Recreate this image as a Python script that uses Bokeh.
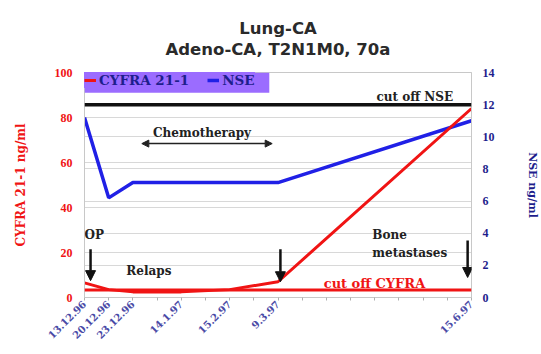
import math
from bokeh.plotting import figure
from bokeh.models import (Range1d, LinearAxis, FixedTicker, Grid, Legend, LegendItem,
                          BoxAnnotation, Label, Arrow, NormalHead, Span, Title)
from bokeh.embed import file_html
from bokeh.resources import INLINE

# ---------------- data ----------------
slot_count = 17                      # evenly spaced category slots on the x axis
date_pos = [0, 1, 2, 4, 6, 8, 16]   # slot index of each measurement
date_labels = ["13.12.96", "20.12.96", "23.12.96", "14.1.97", "15.2.97", "9.3.97", "15.6.97"]
cyfra = [6.5, 3.5, 2.5, 2.5, 3.5, 7.0, 84.0]       # CYFRA 21-1 ng/ml (left axis)
nse = [11.2, 6.2, 7.15, 7.15, 7.15, 7.15, 11.0]    # NSE ng/ml (right axis)
cutoff_cyfra = 3.3
cutoff_nse = 12.0
left_ticks = [0, 20, 40, 60, 80, 100]
right_ticks = [0, 2, 4, 6, 8, 10, 12, 14]
title_lines = ["Lung-CA", "Adeno-CA, T2N1M0, 70a"]

RED = "#f01414"
BLUE = "#2020e6"
NAVY = "#1e1e8c"
SERIF = "DejaVu Serif"

p = figure(width=541, height=354, output_backend="svg", toolbar_location=None,
           x_range=Range1d(0, slot_count - 1), y_range=Range1d(0, 100),
           min_border_left=84, min_border_right=59, min_border_top=72, min_border_bottom=57,
           title=" ")
p.extra_y_ranges = {"nse": Range1d(0, 14)}
p.background_fill_color = "white"
p.border_fill_color = "white"
p.outline_line_color = "#c8c8c8"

# two title lines above the frame (second line nearest the frame)
p.title.text_font_size = "10px"
p.title.standoff = 0
p.add_layout(Title(text=title_lines[1], align="center", text_font="DejaVu Sans",
                   text_font_style="bold", text_font_size="16.5px",
                   text_color="#2a2a2a", offset=-16, standoff=0,
                   padding=(0, 0, 0, 14)), "above")
p.add_layout(Title(text=title_lines[0], align="center", text_font="DejaVu Sans",
                   text_font_style="bold", text_font_size="16.5px",
                   text_color="#2a2a2a", offset=-16, standoff=0), "above")

# grids
p.xgrid.visible = False
p.ygrid.ticker = FixedTicker(ticks=left_ticks)
p.ygrid.grid_line_color = "#d8d8d8"
p.add_layout(Grid(dimension=1, ticker=FixedTicker(ticks=right_ticks), y_range_name="nse",
                  grid_line_color="#d8d8d8"))

# x axis
xa = p.xaxis[0]
xa.ticker = FixedTicker(ticks=list(range(slot_count)))
overrides = {i: "" for i in range(slot_count)}
for pos, lab in zip(date_pos, date_labels):
    overrides[pos] = lab
xa.major_label_overrides = overrides
xa.major_label_orientation = math.pi / 4
xa.major_label_text_font = SERIF
xa.major_label_text_font_style = "bold"
xa.major_label_text_font_size = "10px"
xa.major_label_text_color = "#4a4aa6"
xa.axis_line_color = "#c8c8c8"
xa.major_tick_line_color = "#b0b0b0"
xa.major_tick_out = 3
xa.major_tick_in = 0
xa.minor_tick_line_color = None
xa.major_label_standoff = 2

# left axis
ya = p.yaxis[0]
ya.ticker = FixedTicker(ticks=left_ticks)
ya.axis_label = "CYFRA 21-1 ng/ml"
ya.axis_label_text_font = SERIF
ya.axis_label_text_font_style = "bold"
ya.axis_label_text_font_size = "12px"
ya.axis_label_text_color = RED
ya.axis_label_standoff = 24
ya.major_label_text_font = "Liberation Serif"
ya.major_label_text_font_style = "bold"
ya.major_label_text_font_size = "12px"
ya.major_label_text_color = RED
ya.axis_line_color = "#c8c8c8"
ya.major_tick_line_color = None
ya.minor_tick_line_color = None
ya.major_label_standoff = 6

# right axis
ra = LinearAxis(y_range_name="nse", ticker=FixedTicker(ticks=right_ticks), axis_label="NSE ng/ml")
ra.axis_label_text_font = SERIF
ra.axis_label_text_font_style = "bold"
ra.axis_label_text_font_size = "11px"
ra.axis_label_text_color = NAVY
ra.axis_label_standoff = 28
ra.major_label_text_font = "Liberation Serif"
ra.major_label_text_font_style = "bold"
ra.major_label_text_font_size = "12px"
ra.major_label_text_color = NAVY
ra.axis_line_color = "#c8c8c8"
ra.major_tick_line_color = None
ra.minor_tick_line_color = None
ra.major_label_standoff = 5
p.add_layout(ra, "right")

# series
r_nse = p.line(date_pos, nse, y_range_name="nse", line_color=BLUE, line_width=3.5)
r_cyfra = p.line(date_pos, cyfra, line_color=RED, line_width=3)

# cut-off lines
p.add_layout(Span(location=cutoff_cyfra, dimension="width", line_color=RED, line_width=3))
p.add_layout(Span(location=cutoff_nse, dimension="width", y_range_name="nse",
                  line_color="#111111", line_width=3.5))

# legend
p.add_layout(BoxAnnotation(left=0, right=7.64, bottom=91, top=100, fill_color="#9b6cff",
                           fill_alpha=1, line_color=None, level="annotation"))
legend = Legend(items=[LegendItem(label="CYFRA 21-1", renderers=[r_cyfra]),
                       LegendItem(label="NSE", renderers=[r_nse])],
                location="top_left", orientation="horizontal", margin=0, padding=3,
                spacing=18, glyph_width=12, glyph_height=10, label_standoff=3,
                background_fill_color="#9b6cff", background_fill_alpha=1,
                border_line_color=None,
                label_text_font=SERIF, label_text_font_style="bold",
                label_text_font_size="13.5px", label_text_color=NAVY)
p.add_layout(legend)

# annotations
def lab(x, y, text, align="left", size="12px", color="#222222"):
    p.add_layout(Label(x=x, y=y, text=text, text_align=align, text_baseline="middle",
                       text_font=SERIF, text_font_style="bold", text_font_size=size,
                       text_color=color))

lab(0.0, 27.6, "OP")
lab(1.73, 11.6, "Relaps")
lab(4.86, 72.9, "Chemotherapy", align="center")
lab(11.9, 27.6, "Bone")
lab(11.9, 19.6, "metastases", size="12px")
lab(9.89, 6.4, "cut off CYFRA", size="13px", color=RED)
lab(15.24, 88.9, "cut off NSE", align="right")

def down_arrow(x, y0, y1):
    p.add_layout(Arrow(end=NormalHead(size=10, fill_color="#111111", line_color="#111111"),
                       x_start=x, y_start=y0, x_end=x, y_end=y1,
                       line_color="#111111", line_width=2.5))

down_arrow(0.25, 21.5, 7.5)
down_arrow(8.1, 21.5, 7.0)
down_arrow(15.84, 25.3, 8.9)

p.add_layout(Arrow(start=NormalHead(size=7, fill_color="#222222", line_color="#222222"),
                   end=NormalHead(size=7, fill_color="#222222", line_color="#222222"),
                   x_start=2.37, y_start=68.4, x_end=7.76, y_end=68.4,
                   line_color="#222222", line_width=1.5))

open("out.html", "w").write(file_html(p, INLINE))
